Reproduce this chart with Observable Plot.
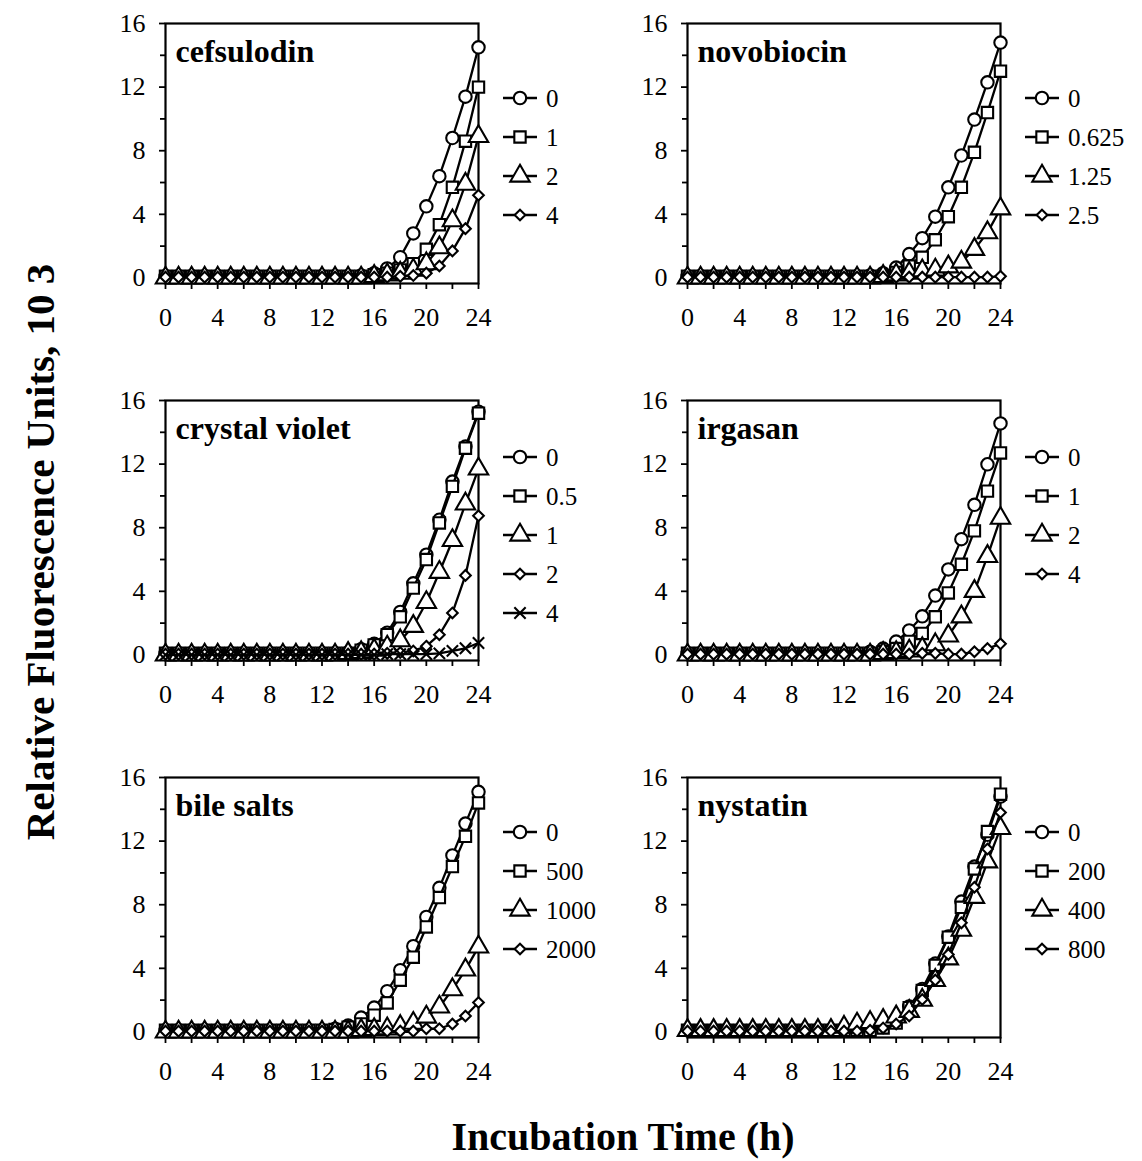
<!DOCTYPE html>
<html>
<head>
<meta charset="utf-8">
<script src="https://cdn.jsdelivr.net/npm/d3@7"></script>
<script src="https://cdn.jsdelivr.net/npm/@observablehq/plot@0.6"></script>
<style>
  html, body { margin: 0; padding: 0; background: #fff; }
  #root { position: relative; width: 1142px; height: 1161px; overflow: hidden; font-family: "Liberation Serif", "Times New Roman", serif; }
  .panel { position: absolute; }
  .overlay { position: absolute; left: 0; top: 0; pointer-events: none; }
</style>
</head>
<body>
<div id="root"></div>
<script>
// ---------------- DATA ----------------
const hours = [0,1,2,3,4,5,6,7,8,9,10,11,12,13,14,15,16,17,18,19,20,21,22,23,24];

const panelTitles = ["cefsulodin", "novobiocin", "crystal violet", "irgasan", "bile salts", "nystatin"];

const cefsulodinLevels = ["0", "1", "2", "4"];
const novobiocinLevels = ["0", "0.625", "1.25", "2.5"];
const crystalVioletLevels = ["0", "0.5", "1", "2", "4"];
const irgasanLevels = ["0", "1", "2", "4"];
const bileSaltsLevels = ["0", "500", "1000", "2000"];
const nystatinLevels = ["0", "200", "400", "800"];

const yTickLabels = [0, 4, 8, 12, 16];
const yMinorTicks = [2, 6, 10, 14];
const xTickLabels = [0, 4, 8, 12, 16, 20, 24];
const xMinorTicks = [2, 6, 10, 14, 18, 22];

// cefsulodin
const cef0 = [0.1,0.1,0.1,0.1,0.1,0.1,0.1,0.1,0.1,0.1,0.1,0.1,0.1,0.1,0.1,0.15,0.3,0.6,1.3,2.8,4.5,6.4,8.8,11.4,14.5];
const cef1 = [0.1,0.1,0.1,0.1,0.1,0.1,0.1,0.1,0.1,0.1,0.1,0.1,0.1,0.1,0.1,0.1,0.2,0.3,0.5,0.9,1.8,3.35,5.7,8.6,12.0];
const cef2 = [0,0,0,0,0,0,0,0,0,0,0,0,0,0,0,0,0.1,0.2,0.3,0.5,0.9,1.9,3.6,5.9,8.9];
const cef3 = [0.05,0.05,0.05,0.05,0.05,0.05,0.05,0.05,0.05,0.05,0.05,0.05,0.05,0.05,0.05,0.05,0.05,0.05,0.1,0.15,0.3,0.75,1.7,3.1,5.2];

// novobiocin
const nov0 = [0.1,0.1,0.1,0.1,0.1,0.1,0.1,0.1,0.1,0.1,0.1,0.1,0.1,0.1,0.15,0.3,0.65,1.5,2.5,3.85,5.7,7.7,9.96,12.3,14.8];
const nov1 = [0.1,0.1,0.1,0.1,0.1,0.1,0.1,0.1,0.1,0.1,0.1,0.1,0.1,0.1,0.1,0.1,0.35,0.75,1.3,2.4,3.85,5.7,7.9,10.4,13.0];
const nov2 = [0,0,0,0,0,0,0,0,0,0,0,0,0,0,0,0.1,0.2,0.3,0.45,0.5,0.7,1.0,1.8,2.85,4.35];
const nov3 = [0.05,0.05,0.05,0.05,0.05,0.05,0.05,0.05,0.05,0.05,0.05,0.05,0.05,0.05,0.05,0.05,0.05,0.05,0.05,0.05,0.05,0.05,0.05,0.05,0.1];

// crystal violet
const cv0 = [0.1,0.1,0.1,0.1,0.1,0.1,0.1,0.1,0.1,0.1,0.1,0.1,0.1,0.1,0.15,0.35,0.7,1.4,2.7,4.5,6.3,8.5,10.9,13.1,15.3];
const cv1 = [0.1,0.1,0.1,0.1,0.1,0.1,0.1,0.1,0.1,0.1,0.1,0.1,0.1,0.1,0.1,0.3,0.63,1.27,2.4,4.2,6.0,8.3,10.6,13.0,15.2];
const cv2 = [0,0,0,0,0,0,0,0,0,0,0,0,0,0,0.1,0.15,0.3,0.5,0.9,1.8,3.3,5.2,7.2,9.5,11.7];
const cv3 = [0.05,0.05,0.05,0.05,0.05,0.05,0.05,0.05,0.05,0.05,0.05,0.05,0.05,0.05,0.05,0.05,0.05,0.1,0.15,0.25,0.55,1.27,2.64,5.0,8.75];
const cv4 = [0,0,0,0,0,0,0,0,0,0,0,0,0,0,0,0,0,0.05,0.05,0.05,0.05,0.1,0.25,0.42,0.75];

// irgasan
const irg0 = [0.1,0.1,0.1,0.1,0.1,0.1,0.1,0.1,0.1,0.1,0.1,0.1,0.1,0.1,0.2,0.4,0.84,1.54,2.43,3.73,5.38,7.28,9.44,11.99,14.56];
const irg1 = [0.1,0.1,0.1,0.1,0.1,0.1,0.1,0.1,0.1,0.1,0.1,0.1,0.1,0.1,0.1,0.2,0.4,0.85,1.35,2.4,3.9,5.7,7.8,10.3,12.7];
const irg2 = [0,0,0,0,0,0,0,0,0,0,0,0,0,0,0,0.1,0.15,0.25,0.4,0.65,1.2,2.4,4.0,6.2,8.6];
const irg3 = [0.05,0.05,0.05,0.05,0.05,0.05,0.05,0.05,0.05,0.05,0.05,0.05,0.05,0.05,0.05,0.05,0.05,0.05,0.1,0.1,0.05,0.05,0.2,0.4,0.7];

// bile salts
const bile0 = [0.1,0.1,0.1,0.1,0.1,0.1,0.1,0.1,0.1,0.1,0.1,0.1,0.1,0.2,0.4,0.9,1.53,2.56,3.88,5.39,7.23,9.06,11.1,13.1,15.1];
const bile1 = [0.1,0.1,0.1,0.1,0.1,0.1,0.1,0.1,0.1,0.1,0.1,0.1,0.1,0.15,0.3,0.5,1.05,1.82,3.25,4.7,6.6,8.45,10.4,12.3,14.4];
const bile2 = [0,0,0,0,0,0,0,0,0,0,0,0,0,0,0,0.1,0.15,0.2,0.35,0.55,0.94,1.57,2.66,3.9,5.35];
const bile3 = [0.05,0.05,0.05,0.05,0.05,0.05,0.05,0.05,0.05,0.05,0.05,0.05,0.05,0.05,0.05,0.05,0.05,0.05,0.05,0.05,0.2,0.2,0.5,1.0,1.85];

// nystatin
const nys0 = [0.1,0.1,0.1,0.1,0.1,0.1,0.1,0.1,0.1,0.1,0.1,0.1,0.1,0.1,0.2,0.4,0.8,1.6,2.7,4.3,6.0,8.2,10.4,12.4,14.8];
const nys1 = [0.1,0.1,0.1,0.1,0.1,0.1,0.1,0.1,0.1,0.1,0.1,0.1,0.1,0.1,0.1,0.25,0.56,1.53,2.6,4.18,5.96,7.84,10.25,12.6,14.95];
const nys2 = [0.1,0.1,0.1,0.1,0.1,0.1,0.1,0.1,0.1,0.1,0.1,0.1,0.3,0.5,0.6,0.73,0.95,1.3,2.0,3.24,4.6,6.4,8.47,10.7,12.8];
const nys3 = [0.05,0.05,0.05,0.05,0.05,0.05,0.05,0.05,0.05,0.05,0.05,0.05,0.05,0.05,0.1,0.25,0.5,1.0,2.04,3.26,4.87,6.86,9.1,11.5,13.8];

const panels = [
  { title: panelTitles[0], levels: cefsulodinLevels, series: [cef0, cef1, cef2, cef3] },
  { title: panelTitles[1], levels: novobiocinLevels, series: [nov0, nov1, nov2, nov3] },
  { title: panelTitles[2], levels: crystalVioletLevels, series: [cv0, cv1, cv2, cv3, cv4] },
  { title: panelTitles[3], levels: irgasanLevels, series: [irg0, irg1, irg2, irg3] },
  { title: panelTitles[4], levels: bileSaltsLevels, series: [bile0, bile1, bile2, bile3] },
  { title: panelTitles[5], levels: nystatinLevels, series: [nys0, nys1, nys2, nys3] }
];

// ---------------- STYLE / LAYOUT ----------------
const symbols = ["circle", "square", "triangle", "diamond2", "times"];
const radii = [6.2, 6.4, 7.2, 4.8, 5.2];
const d3Symbols = [d3.symbolCircle, d3.symbolSquare, d3.symbolTriangle, d3.symbolDiamond2, d3.symbolTimes];

const frameW = 313, frameH = 260;
const colLeft = [165, 687];
const rowTop = [23, 400, 777];
const legendTop = [98, 457, 832];
const ML = 62, MR = 14, MT = 16, MB = 56;
const FONT = '"Liberation Serif", "Times New Roman", serif';

const root = document.getElementById("root");

panels.forEach((p, idx) => {
  const col = idx % 2, row = Math.floor(idx / 2);
  const marks = [
    Plot.axisY(yMinorTicks, { tickSize: 5, tickFormat: () => "", strokeWidth: 1.8, label: null }),
    Plot.axisY(yTickLabels, { tickSize: 6, tickPadding: 14, strokeWidth: 1.8, label: null, fontSize: 26 }),
    Plot.axisX(xMinorTicks, { tickSize: 6, tickFormat: () => "", strokeWidth: 1.8, label: null }),
    Plot.axisX(xTickLabels, { tickSize: 6, tickPadding: 18, strokeWidth: 1.8, label: null, fontSize: 26 }),
    Plot.frame({ stroke: "black", strokeWidth: 2.2 })
  ];
  p.series.forEach((vals, si) => {
    const data = hours.map((h, i) => ({ h, v: vals[i] }));
    marks.push(Plot.line(data, { x: "h", y: "v", stroke: "black", strokeWidth: 2.3 }));
    marks.push(Plot.dot(data, {
      x: "h", y: "v", symbol: () => symbols[si], r: radii[si],
      fill: "white", stroke: "black", strokeWidth: 2.1
    }));
  });
  marks.push(Plot.text([p.title], {
    frameAnchor: "top-left", text: d => d, dx: 10, dy: 28,
    textAnchor: "start", lineAnchor: "middle",
    fontWeight: "bold", fontSize: 32, fill: "black"
  }));

  const chart = Plot.plot({
    width: ML + frameW + MR,
    height: MT + frameH + MB,
    marginLeft: ML, marginRight: MR, marginTop: MT, marginBottom: MB,
    x: { domain: [0, 24] },
    y: { domain: [-0.35, 16] },
    symbol: { type: "identity" },
    style: { fontFamily: FONT, fontSize: "26px", color: "black", background: "transparent", overflow: "visible" },
    marks
  });
  chart.classList.add("panel");
  chart.style.left = (colLeft[col] - ML) + "px";
  chart.style.top = (rowTop[row] - MT) + "px";
  root.appendChild(chart);
});

// ---------------- OVERLAY: legends + axis titles ----------------
const svg = d3.select(root).append("svg")
  .attr("class", "overlay")
  .attr("width", 1142).attr("height", 1161)
  .style("font-family", FONT);

panels.forEach((p, idx) => {
  const col = idx % 2, row = Math.floor(idx / 2);
  const lx = colLeft[col] + frameW + 25;
  const g = svg.append("g").attr("transform", `translate(${lx},${legendTop[row]})`);
  p.levels.forEach((lab, si) => {
    const y = si * 39;
    g.append("line").attr("x1", 0).attr("x2", 34).attr("y1", y).attr("y2", y)
      .attr("stroke", "black").attr("stroke-width", 2.3);
    g.append("path")
      .attr("transform", `translate(17,${y})`)
      .attr("d", d3.symbol(d3Symbols[si], Math.PI * radii[si] * radii[si])())
      .attr("fill", "white").attr("stroke", "black").attr("stroke-width", 2.1);
    g.append("text").attr("x", 43).attr("y", y).attr("dy", "0.35em")
      .attr("font-size", 25).text(lab);
  });
});

svg.append("text")
  .attr("transform", "translate(54,552) rotate(-90)")
  .attr("text-anchor", "middle")
  .attr("font-size", 41).attr("font-weight", "bold")
  .text("Relative Fluorescence Units, 10 3");

svg.append("text")
  .attr("x", 623).attr("y", 1150)
  .attr("text-anchor", "middle")
  .attr("font-size", 40).attr("font-weight", "bold")
  .text("Incubation Time (h)");
</script>
</body>
</html>
